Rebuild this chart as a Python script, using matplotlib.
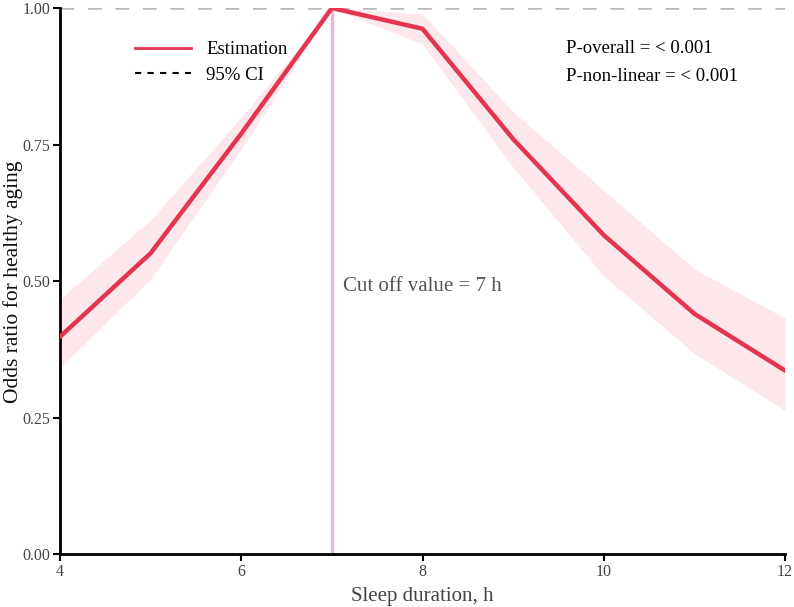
import numpy as np
from matplotlib import pyplot as plt
from matplotlib.lines import Line2D

# sleep duration (h) and estimated odds ratio with 95% CI
hours = [4, 5, 6, 7, 8, 9, 10, 11, 12]
odds = [0.398, 0.551, 0.770, 1.000, 0.962, 0.760, 0.584, 0.440, 0.336]
ci_low = [0.341, 0.504, 0.742, 1.000, 0.934, 0.708, 0.509, 0.367, 0.263]
ci_high = [0.467, 0.612, 0.800, 1.000, 0.989, 0.810, 0.666, 0.522, 0.432]
yticks = [0.00, 0.25, 0.50, 0.75, 1.00]
xticks = [4, 6, 8, 10, 12]
cutoff = 7

plt.rcParams['font.family'] = ['Liberation Serif', 'DejaVu Serif']

fig = plt.figure(figsize=(7.94, 6.07), dpi=100)
ax = fig.add_axes([0.0756, 0.0873, 0.9131, 0.8995])

ax.fill_between(hours, ci_low, ci_high, color='#fce7ea', lw=0, zorder=1)
ax.axvline(cutoff, color='#f0b3d9', lw=2.5, zorder=2)
ax.axhline(1.0, color='#b8b8b8', lw=1.8, ls=(0, (5.5, 5.5)), zorder=2)
ax.plot(hours, odds, color='#e3354f', lw=3.2, zorder=3, solid_joinstyle='miter')

ax.set_xlim(4, 12)
ax.set_ylim(0, 1)
ax.set_xticks(xticks)
ax.set_yticks(yticks)
ax.set_yticklabels([f'{v:.2f}' for v in yticks])
ax.tick_params(labelsize=11.5, labelcolor='#444444', length=5, width=1.5, color='black', pad=2)

for s in ['top', 'right']:
    ax.spines[s].set_visible(False)
for s in ['left', 'bottom']:
    ax.spines[s].set_linewidth(2)

fig.text(0.5 * (60 + 785) / 794, 1 - 596 / 607, 'Sleep duration, h', fontsize=15,
         color='#444444', ha='center', va='center')
fig.text(13 / 794, 1 - 282 / 607, 'Odds ratio for healthy aging', rotation=90,
         fontsize=15.5, color='#111111', ha='center', va='center')

handles = [Line2D([], [], color='#e3354f', lw=2),
           Line2D([], [], color='black', lw=1.5, ls=(0, (3, 3)))]
ax.legend(handles, ['Estimation', '95% CI'], loc='upper left', bbox_to_anchor=(0.08, 0.97),
          frameon=False, fontsize=13.5, handlelength=3.0, labelspacing=0.45)

ax.text(0.698, 0.925, 'P-overall = < 0.001', transform=ax.transAxes, fontsize=13.5, va='center')
ax.text(0.698, 0.875, 'P-non-linear = < 0.001', transform=ax.transAxes, fontsize=13.5, va='center')
ax.text(7.12, 0.49, 'Cut off value = 7 h', fontsize=15, color='#555555', va='center')

plt.savefig('out.png', dpi=100)
